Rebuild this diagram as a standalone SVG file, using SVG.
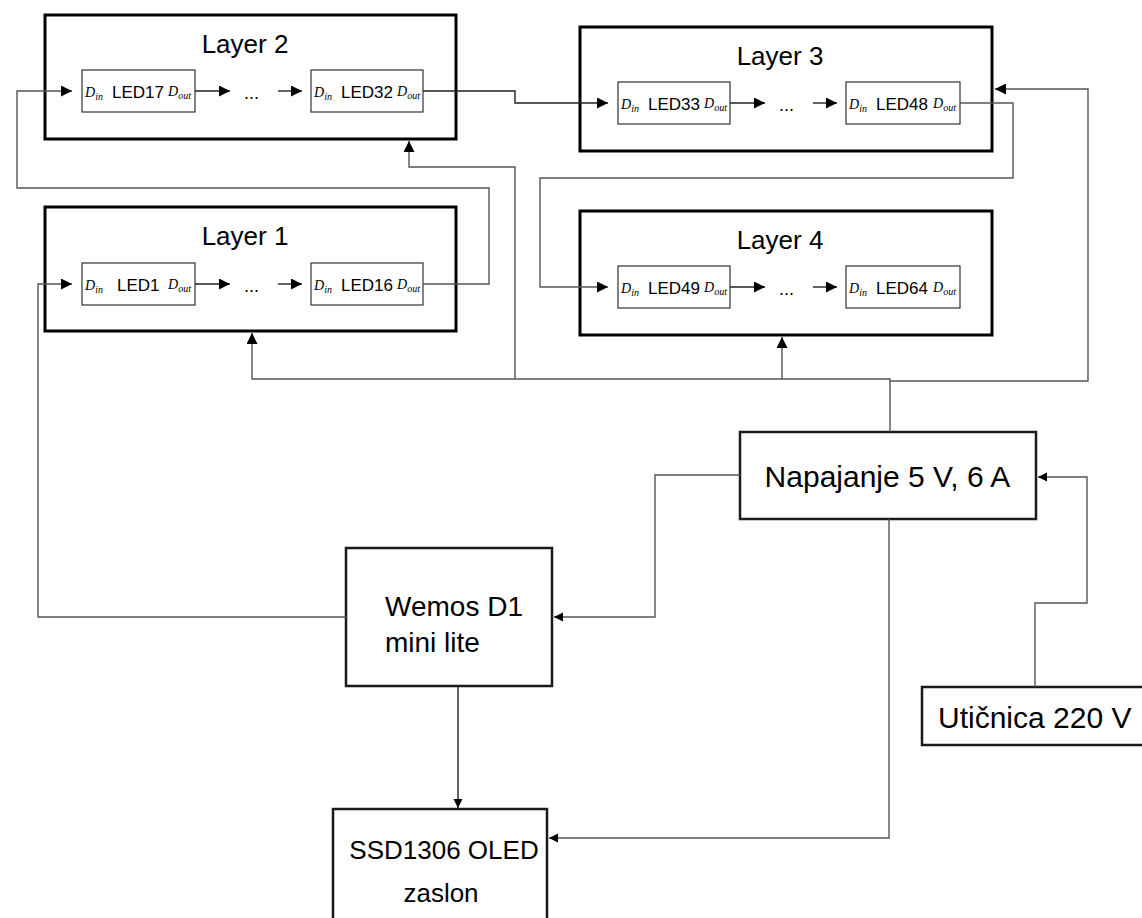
<svg xmlns="http://www.w3.org/2000/svg" width="1142" height="918" viewBox="0 0 1142 918">
<style>
.box{fill:#fff;stroke:#000;stroke-width:3}
.mbox{fill:#fff;stroke:#1a1a1a;stroke-width:2.5}
.led{fill:#fff;stroke:#333;stroke-width:1.2}
.title{font-family:"Liberation Sans",Arial,sans-serif;font-size:26px;fill:#000;text-anchor:middle}
.big{font-family:"Liberation Sans",Arial,sans-serif;font-size:30px;fill:#000}
.mid{font-family:"Liberation Sans",Arial,sans-serif;font-size:28px;fill:#000}
.ssd{font-family:"Liberation Sans",Arial,sans-serif;font-size:26px;fill:#000;text-anchor:middle}
.lbl{font-family:"Liberation Sans",Arial,sans-serif;font-size:17px;fill:#000}
.dots{font-family:"Liberation Sans",Arial,sans-serif;font-size:18px;fill:#000}
.d{font-family:"Liberation Serif","Times New Roman",serif;font-style:italic;font-size:14px;fill:#000}
.sub{font-size:10px}
.wire{fill:none;stroke:#555;stroke-width:1.4}
.chain{fill:none;stroke:#222;stroke-width:1.4}
</style>
<defs>
<marker id="ab" markerUnits="userSpaceOnUse" markerWidth="12" markerHeight="11" refX="11" refY="5.5" orient="auto">
<path d="M0,0 L11,5.5 L0,11 z" fill="#000"/>
</marker>
<marker id="as" markerUnits="userSpaceOnUse" markerWidth="10" markerHeight="10" refX="9" refY="4.5" orient="auto">
<path d="M0,0 L9,4.5 L0,9 z" fill="#000"/>
</marker>
</defs>

<g id="layer2">
<rect class="box" x="45" y="15" width="411" height="124"/>
<text class="title" x="245" y="53">Layer 2</text>
<rect class="led" x="82" y="70" width="113" height="42"/>
<text class="d" x="85" y="97">D<tspan class="sub" dy="3">in</tspan></text>
<text class="lbl" x="112" y="98">LED17</text>
<text class="d" x="168" y="96">D<tspan class="sub" dy="3">out</tspan></text>
<path class="chain" d="M195,91 H230" marker-end="url(#ab)"/>
<text class="dots" x="244" y="99">...</text>
<path class="chain" d="M278,91 H302" marker-end="url(#ab)"/>
<rect class="led" x="311" y="70" width="112" height="42"/>
<text class="d" x="314" y="97">D<tspan class="sub" dy="3">in</tspan></text>
<text class="lbl" x="341" y="98">LED32</text>
<text class="d" x="397" y="96">D<tspan class="sub" dy="3">out</tspan></text>
</g>

<g id="layer1">
<rect class="box" x="45" y="207" width="411" height="124"/>
<text class="title" x="245" y="245">Layer 1</text>
<rect class="led" x="82" y="263" width="113" height="42"/>
<text class="d" x="85" y="290">D<tspan class="sub" dy="3">in</tspan></text>
<text class="lbl" x="117" y="291">LED1</text>
<text class="d" x="168" y="289">D<tspan class="sub" dy="3">out</tspan></text>
<path class="chain" d="M195,284 H230" marker-end="url(#ab)"/>
<text class="dots" x="244" y="292">...</text>
<path class="chain" d="M278,284 H302" marker-end="url(#ab)"/>
<rect class="led" x="311" y="263" width="112" height="42"/>
<text class="d" x="314" y="290">D<tspan class="sub" dy="3">in</tspan></text>
<text class="lbl" x="341" y="291">LED16</text>
<text class="d" x="397" y="289">D<tspan class="sub" dy="3">out</tspan></text>
</g>

<g id="layer3">
<rect class="box" x="580" y="27" width="412" height="124"/>
<text class="title" x="780" y="65">Layer 3</text>
<rect class="led" x="618" y="82" width="112" height="42"/>
<text class="d" x="621" y="109">D<tspan class="sub" dy="3">in</tspan></text>
<text class="lbl" x="648" y="110">LED33</text>
<text class="d" x="704" y="108">D<tspan class="sub" dy="3">out</tspan></text>
<path class="chain" d="M730,103 H765" marker-end="url(#ab)"/>
<text class="dots" x="779" y="111">...</text>
<path class="chain" d="M813,103 H837" marker-end="url(#ab)"/>
<rect class="led" x="846" y="82" width="114" height="42"/>
<text class="d" x="849" y="109">D<tspan class="sub" dy="3">in</tspan></text>
<text class="lbl" x="876" y="110">LED48</text>
<text class="d" x="933" y="108">D<tspan class="sub" dy="3">out</tspan></text>
</g>

<g id="layer4">
<rect class="box" x="580" y="211" width="412" height="124"/>
<text class="title" x="780" y="249">Layer 4</text>
<rect class="led" x="618" y="266" width="112" height="42"/>
<text class="d" x="621" y="293">D<tspan class="sub" dy="3">in</tspan></text>
<text class="lbl" x="648" y="294">LED49</text>
<text class="d" x="704" y="292">D<tspan class="sub" dy="3">out</tspan></text>
<path class="chain" d="M730,287 H765" marker-end="url(#ab)"/>
<text class="dots" x="779" y="295">...</text>
<path class="chain" d="M813,287 H837" marker-end="url(#ab)"/>
<rect class="led" x="846" y="266" width="114" height="42"/>
<text class="d" x="849" y="293">D<tspan class="sub" dy="3">in</tspan></text>
<text class="lbl" x="876" y="294">LED64</text>
<text class="d" x="933" y="292">D<tspan class="sub" dy="3">out</tspan></text>
</g>

<g id="napajanje">
<rect class="mbox" x="740" y="432" width="296" height="87"/>
<text class="big" x="887.5" y="487" text-anchor="middle">Napajanje 5 V, 6 A</text>
</g>

<g id="wemos">
<rect class="mbox" x="346" y="548" width="206" height="138"/>
<text class="mid" x="385" y="616">Wemos D1</text>
<text class="mid" x="385" y="652">mini lite</text>
</g>

<g id="oled">
<rect class="mbox" x="333" y="809" width="214" height="130"/>
<text class="ssd" x="444" y="859">SSD1306 OLED</text>
<text class="ssd" x="441" y="902">zaslon</text>
</g>

<g id="uticnica">
<rect class="mbox" x="922" y="687" width="240" height="58"/>
<text class="big" x="938" y="728">Utičnica 220 V</text>
</g>

<g id="connectors">
<path class="wire" d="M346,617 H38 V284 H72" marker-end="url(#ab)"/>
<path class="wire" d="M423,284 H489 V188 H17 V91 H72" marker-end="url(#ab)"/>
<path class="chain" d="M423,91 H515 V103 H608" marker-end="url(#ab)"/>
<path class="wire" d="M960,103 H1013 V178 H540 V287 H608" marker-end="url(#ab)"/>
<path class="wire" d="M890,432 V379 H252 V333" marker-end="url(#ab)"/>
<path class="wire" d="M782,379 V337" marker-end="url(#ab)"/>
<path class="wire" d="M515,379 V167 H409 V141" marker-end="url(#ab)"/>
<path class="wire" d="M890,381 H1088 V89 H995" marker-end="url(#ab)"/>
<path class="wire" d="M740,475 H655 V617 H554" marker-end="url(#as)"/>
<path class="wire" d="M889,519 V838 H549" marker-end="url(#as)"/>
<path class="wire" d="M1035,687 V603 H1087 V477 H1038" marker-end="url(#as)"/>
<path class="chain" d="M458,687 V808" marker-end="url(#as)"/>
</g>
</svg>
